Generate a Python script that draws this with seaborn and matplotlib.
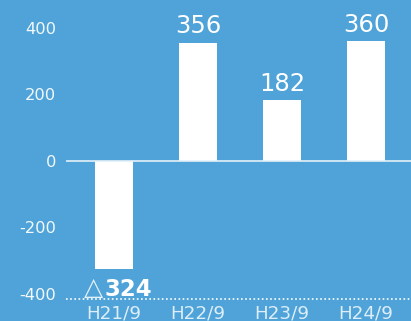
import matplotlib
matplotlib.use("Agg")
import matplotlib.pyplot as plt
import seaborn as sns
import pandas as pd

periods = ["H21/9", "H22/9", "H23/9", "H24/9"]
values = [-324, 356, 182, 360]
yticks = [-400, -200, 0, 200, 400]

BG = "#4FA3D8"
sns.set_theme(style="white")
plt.rcParams["font.family"] = ["DejaVu Sans"]

fig = plt.figure(figsize=(4.11, 3.21), dpi=100, facecolor=BG)
ax = fig.add_axes([66/411, 22/321, 345/411, 299/321])
ax.set_facecolor(BG)

df = pd.DataFrame({"period": periods, "value": values})
sns.barplot(data=df, x="period", y="value", color="white", saturation=1,
            width=0.45, ax=ax)
for p in ax.patches:
    p.set_edgecolor("none")

ax.set_xlim(-0.571, 3.536)
ax.set_ylim(-415, 484)
ax.set_yticks(yticks)
ax.set_yticklabels([str(t) for t in yticks])
for s in ax.spines.values():
    s.set_visible(False)
ax.set_xlabel("")
ax.set_ylabel("")
ax.tick_params(axis="y", length=0, pad=7, labelsize=11.7, labelcolor="#F2F8FC")
ax.tick_params(axis="x", length=0, pad=4.3, labelsize=13.2, labelcolor="#DDEEF9")

ax.axhline(0, color="#E3F0F9", lw=1.2, zorder=1)
ax.axhline(-415, color="white", lw=1.2, ls=(0, (1, 1.5)), zorder=1, clip_on=False)

for i, v in enumerate(values):
    if v >= 0:
        ax.annotate(str(v), (i, v), xytext=(0, 7), textcoords="offset points",
                    ha="center", va="baseline", color="white", fontsize=17.5)
    else:
        ax.annotate(str(abs(v)), (i, v), xytext=(-6.5, -19.5), textcoords="offset points",
                    ha="left", va="baseline", color="white", fontsize=16.5,
                    fontweight="bold")
        ax.annotate("△", (i, v), xytext=(-7.5, -19), textcoords="offset points",
                    ha="right", va="baseline", color="#E3F0F9", fontsize=18)

fig.savefig("out.png", dpi=100, facecolor=BG)
